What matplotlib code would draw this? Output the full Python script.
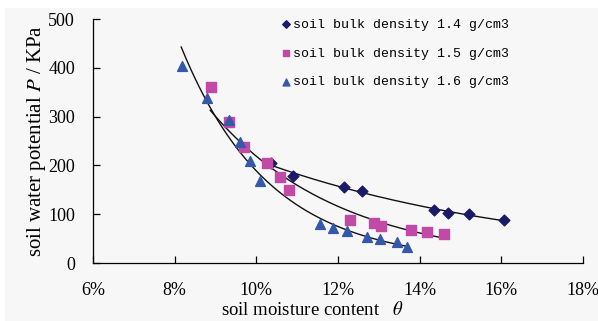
import numpy as np
import matplotlib
matplotlib.use('Agg')
import matplotlib.pyplot as plt
from matplotlib.patches import Rectangle
from matplotlib.ticker import FuncFormatter

# Datos (humedad en %, potencial en kPa)
x14 = [10.36, 10.90, 12.15, 12.59, 14.35, 14.69, 15.20, 16.07]
y14 = [205, 178, 156, 148, 109, 102, 100, 88]

x15 = [8.89, 9.33, 9.70, 10.26, 10.58, 10.80, 12.29, 12.88, 13.05, 13.79, 14.18, 14.60]
y15 = [361, 289, 237, 205, 177, 150, 88, 82, 76, 68, 64, 59]

x16 = [8.18, 8.79, 9.33, 9.60, 9.84, 10.09, 11.56, 11.88, 12.22, 12.71, 13.03, 13.44, 13.69]
y16 = [404, 338, 293, 248, 209, 168, 80, 72, 66, 54, 49, 43, 33]

etiquetas = ['soil bulk density 1.4 g/cm3',
             'soil bulk density 1.5 g/cm3',
             'soil bulk density 1.6 g/cm3']

# rango de cada linea de tendencia
rango14 = (10.36, 16.07)
rango15 = (8.87, 14.6)
rango16 = (8.16, 13.69)

plt.rcParams['mathtext.fontset'] = 'stix'

fig = plt.figure(figsize=(5.98, 3.21), dpi=100, facecolor='white')
fig.patches.append(Rectangle((5 / 598, 0), 1, 1 - 8 / 321, transform=fig.transFigure,
                             facecolor='#f7f7f7', edgecolor='none', zorder=-10))
ax = fig.add_axes([93 / 598, 1 - 263 / 321, 490 / 598, 244 / 321])
ax.set_facecolor('none')


def tendencia(xs, ys, rango):
    # ajuste exponencial (linea de tendencia de Excel)
    b, a = np.polyfit(xs, np.log(ys), 1)
    xx = np.linspace(rango[0], rango[1], 200)
    return xx, np.exp(a + b * xx)


for xs, ys, r in [(x14, y14, rango14), (x15, y15, rango15), (x16, y16, rango16)]:
    xx, yy = tendencia(xs, ys, r)
    ax.plot(xx, yy, color='#111111', lw=1.0, zorder=2)

ax.scatter(x14, y14, marker='D', s=30, color='#1a1a66', label=etiquetas[0], zorder=3)
ax.scatter(x15, y15, marker='s', s=45, color='#c04aa6', label=etiquetas[1], zorder=3)
ax.scatter(x16, y16, marker='^', s=50, color='#3559a8', label=etiquetas[2], zorder=3)

ax.set_xlim(6, 18)
ax.set_ylim(0, 500)
ax.set_xticks(np.arange(6, 19, 2))
ax.set_yticks(np.arange(0, 501, 100))
ax.xaxis.set_major_formatter(FuncFormatter(lambda v, p: f'{v:.0f}%'))

for s in ['top', 'right']:
    ax.spines[s].set_visible(False)
for s in ['left', 'bottom']:
    ax.spines[s].set_linewidth(0.9)
ax.tick_params(direction='in', length=5, width=0.9, labelsize=13)
ax.tick_params(axis='x', pad=14)
ax.tick_params(axis='y', pad=13)
for lab in ax.get_xticklabels() + ax.get_yticklabels():
    lab.set_fontfamily('Liberation Serif')

ax.set_xlabel(r'soil moisture content   $\theta$', fontsize=13.5, family='Liberation Serif')
ax.xaxis.set_label_coords((312 - 93) / 490, -0.155)
ax.set_ylabel(r'soil water potential $P$ / KPa', fontsize=15, family='Liberation Serif', labelpad=0)

ax.legend(loc='upper left', bbox_to_anchor=(0.357, 1.05), frameon=False,
          prop={'family': 'Liberation Mono', 'size': 9.5}, handletextpad=0.0,
          handlelength=1.0, labelspacing=1.25, markerscale=0.7)

fig.savefig('out.png', dpi=100, facecolor=fig.get_facecolor())
